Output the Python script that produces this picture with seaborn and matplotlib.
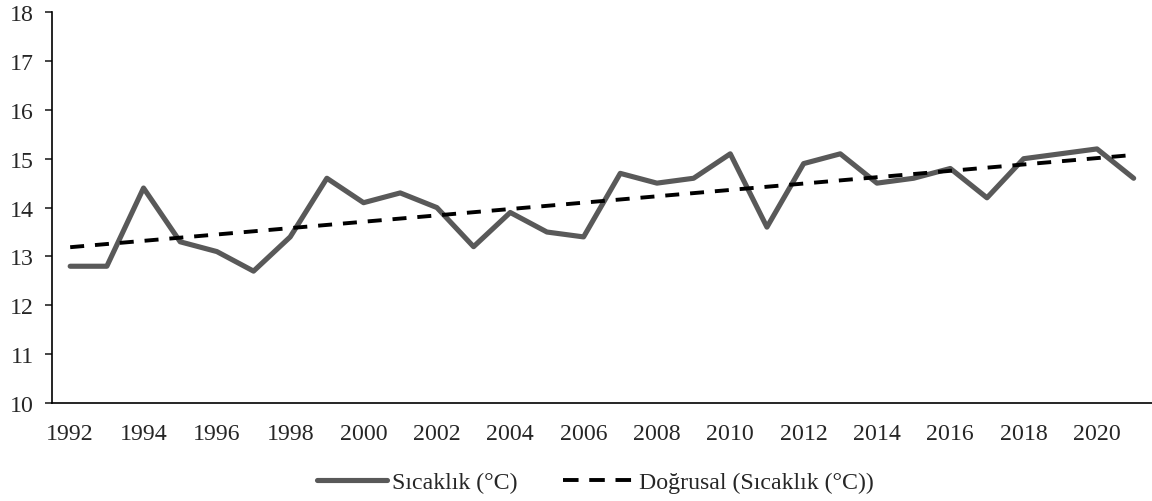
import numpy as np
import matplotlib
matplotlib.use("Agg")
import matplotlib.pyplot as plt
import pandas as pd
import seaborn as sns

years = list(range(1992, 2022))
temps = [12.8, 12.8, 14.4, 13.3, 13.1, 12.7, 13.4, 14.6, 14.1, 14.3,
         14.0, 13.2, 13.9, 13.5, 13.4, 14.7, 14.5, 14.6, 15.1, 13.6,
         14.9, 15.1, 14.5, 14.6, 14.8, 14.2, 15.0, 15.1, 15.2, 14.6]
y_ticks = [10, 11, 12, 13, 14, 15, 16, 17, 18]
series_label = "Sıcaklık (°C)"
trend_label = "Doğrusal (Sıcaklık (°C))"


def plot():
    sns.set_style("ticks")
    plt.rcParams['font.family'] = ['Liberation Serif', 'DejaVu Serif']
    fs = 17.2
    plt.rcParams['font.size'] = fs

    pos = np.arange(len(years))
    # linear trendline, same as excel's "Doğrusal"
    k, b = np.polyfit(pos, temps, 1)
    df = pd.DataFrame({'pos': pos, 'temp': temps, 'trend': k * pos + b})

    fig = plt.figure(figsize=(11.52, 5.02), dpi=100)
    ax = fig.add_axes([0.045, 0.195, 0.955, 0.779])

    sns.lineplot(x='pos', y='temp', data=df, ax=ax, color='#595959',
                 linewidth=3.7, label=series_label)
    sns.lineplot(x='pos', y='trend', data=df, ax=ax, color='black',
                 linewidth=2.8, linestyle=(0, (3.6, 2.8)), label=trend_label)

    ax.set_xlim(-0.5, len(years) - 0.5)
    ax.set_ylim(10, 18)
    ax.set_yticks(y_ticks)
    ax.set_xticks(pos[::2])
    ax.set_xticklabels([str(y) for y in years[::2]])
    ax.tick_params(axis='x', length=0, pad=14, labelsize=fs)
    ax.tick_params(axis='y', length=5, width=1.2, pad=8, labelsize=fs)
    ax.set_xlabel('')
    ax.set_ylabel('')
    sns.despine(ax=ax)
    for s in ['left', 'bottom']:
        ax.spines[s].set_linewidth(1.2)
        ax.spines[s].set_color('black')

    leg = ax.legend(loc='upper center', bbox_to_anchor=(0.494, -0.12), ncol=2,
                    frameon=False, fontsize=fs, handlelength=2.9,
                    handletextpad=0.25, columnspacing=1.9)
    # three dashes in the legend key, ending right at the text
    leg.get_lines()[1].set_linestyle((0, (4.0, 2.75)))

    fig.savefig('out.png', dpi=100)


if __name__ == "__main__":
    plot()
